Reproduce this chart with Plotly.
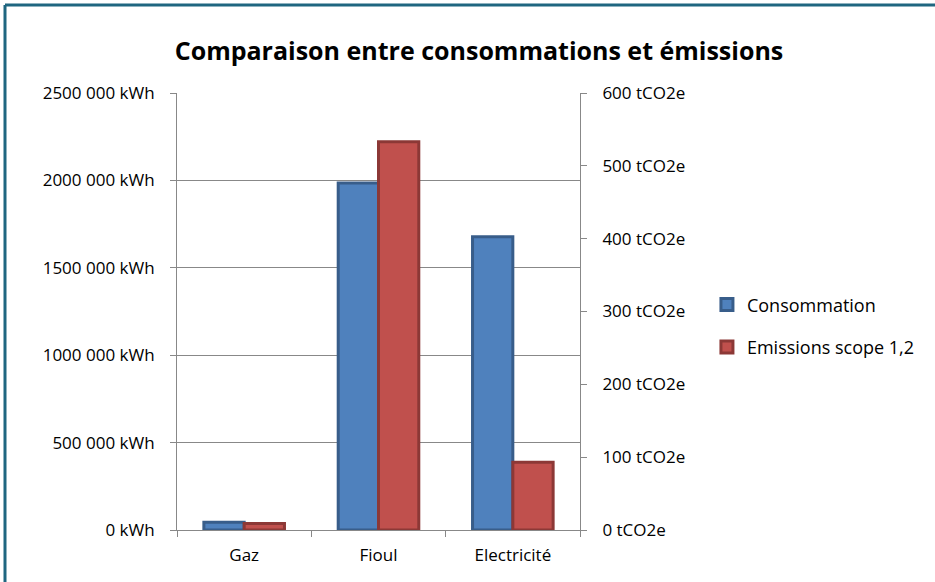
import plotly.graph_objects as go

categories = ["Gaz", "Fioul", "Electricité"]
consommation_kwh = [45000, 1985000, 1678000]
emissions_tco2e = [9, 533, 93]

left_tickvals = [0, 500000, 1000000, 1500000, 2000000, 2500000]
left_ticktext = ["0 kWh", "500 000 kWh", "1000 000 kWh", "1500 000 kWh", "2000 000 kWh", "2500 000 kWh"]
right_tickvals = [0, 100, 200, 300, 400, 500, 600]
right_ticktext = ["0 tCO2e", "100 tCO2e", "200 tCO2e", "300 tCO2e", "400 tCO2e", "500 tCO2e", "600 tCO2e"]

FONT = "Open Sans"

fig = go.Figure()
fig.add_trace(go.Bar(
    x=categories, y=consommation_kwh, name="Consommation", legendgroup="a",
    marker=dict(color="#4F81BD", line=dict(color="#385D8A", width=3)),
    width=0.3, offset=-0.3, yaxis="y",
))
fig.add_trace(go.Bar(
    x=categories, y=emissions_tco2e, name="Emissions scope 1,2", legendgroup="b",
    marker=dict(color="#C0504D", line=dict(color="#8C3836", width=3)),
    width=0.3, offset=0.0, yaxis="y2",
))

fig.update_layout(
    width=935, height=582,
    margin=dict(l=177, r=355, t=93, b=52),
    paper_bgcolor="white", plot_bgcolor="white",
    font=dict(family=FONT, size=17, color="#000000"),
    title=dict(text="<b>Comparaison entre consommations et émissions</b>",
               x=479 / 935, xref="container", xanchor="center",
               y=1 - 51 / 582, yref="container", yanchor="middle",
               font=dict(family=FONT, size=25, color="#000000")),
    barmode="overlay",
    showlegend=True,
    legend=dict(x=1.315, xanchor="left", y=0.467, yanchor="middle",
                font=dict(family=FONT, size=18, color="#000000"),
                bgcolor="rgba(0,0,0,0)", tracegroupgap=16, itemwidth=30),
    xaxis=dict(
        type="category", range=[-0.5, 2.5],
        showline=True, linecolor="#888888", linewidth=1,
        ticks="outside", tickson="boundaries", ticklen=6, tickcolor="#888888",
        showgrid=False, tickfont=dict(size=17), ticklabelstandoff=10,
    ),
    yaxis=dict(
        range=[0, 2500000], tickvals=left_tickvals, ticktext=left_ticktext,
        showline=True, linecolor="#888888", linewidth=1,
        ticks="outside", ticklen=6, tickcolor="#888888",
        showgrid=True, gridcolor="#888888", gridwidth=1,
        zeroline=False, tickfont=dict(size=17), ticklabelstandoff=12,
    ),
    yaxis2=dict(
        range=[0, 600], tickvals=right_tickvals, ticktext=right_ticktext,
        overlaying="y", side="right",
        showline=True, linecolor="#888888", linewidth=1,
        ticks="outside", ticklen=6, tickcolor="#888888",
        showgrid=False, zeroline=False, tickfont=dict(size=17), ticklabelstandoff=12,
    ),
    shapes=[
        dict(type="line", xref="paper", yref="paper",
             x0=-172 / 403, x1=-172 / 403, y0=-60 / 437, y1=(530 - 5) / 437,
             line=dict(color="#1F6680", width=3)),
        dict(type="line", xref="paper", yref="paper",
             x0=-172 / 403, x1=(940 - 177) / 403, y0=(530 - 5) / 437, y1=(530 - 5) / 437,
             line=dict(color="#1F6680", width=3)),
    ],
)

fig.write_html("out.html", config={"displayModeBar": False},
               post_script="document.body.style.margin='0';")
